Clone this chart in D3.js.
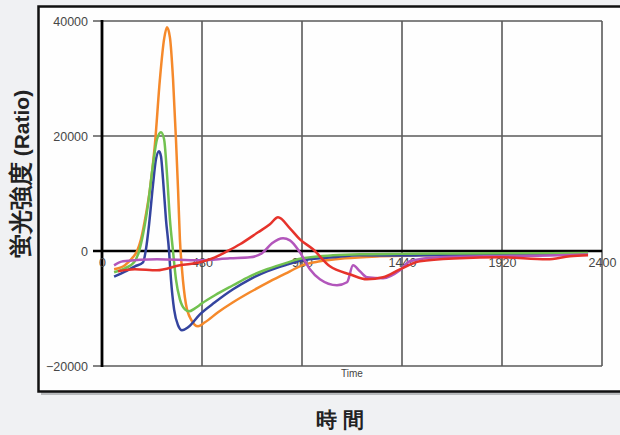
<!DOCTYPE html>
<html>
<head>
<meta charset="utf-8">
<script src="https://cdn.jsdelivr.net/npm/d3@7"></script>
<style>
  html, body { margin: 0; padding: 0; background: #f0f1f3; }
  svg { display: block; }
  text { font-family: "Liberation Sans", Arial, sans-serif; }
</style>
</head>
<body>
<svg id="chart" width="620" height="435"></svg>
<script>
// Axis ticks
const xTicks = [0, 480, 960, 1440, 1920, 2400];
const yTicks = [-20000, 0, 20000, 40000];

// Series: [time, ratio]
const orangeSeries = [
  [58, -3180], [110, -2490], [144, -1270], [168, -50], [187, 2030], [211, 6380],
  [230, 10730], [254, 18550], [278, 29880], [298, 36840], [312, 38900], [326, 37160],
  [341, 29880], [355, 19430], [365, 10730], [374, 2030], [384, -3180], [403, -9270],
  [427, -11880], [461, -13090], [494, -12400], [557, -10660], [629, -8920], [710, -7180],
  [806, -5270], [902, -3530], [960, -2490], [1046, -1790], [1166, -1270], [1334, -920],
  [1526, -750], [1718, -650], [1910, -600], [2100, -550], [2333, -500]
];
const blueSeries = [
  [58, -4470], [110, -3600], [158, -2660], [197, -1970], [211, 300], [226, 4640],
  [245, 11600], [259, 15950], [274, 17340], [283, 16470], [293, 12470], [307, 5510],
  [322, -50], [331, -4920], [346, -10140], [365, -12920], [384, -13790], [413, -13270],
  [470, -11010], [542, -8920], [629, -6660], [710, -4920], [792, -3530], [893, -2310],
  [960, -1620], [1109, -1100], [1238, -750], [1430, -800], [1622, -700], [1910, -650],
  [2150, -600], [2333, -550]
];
const greenSeries = [
  [58, -3700], [110, -3010], [154, -1970], [178, -50], [197, 2900], [221, 8120],
  [245, 15080], [264, 19430], [283, 20640], [298, 19430], [312, 13340], [326, 5510],
  [341, -50], [355, -4920], [374, -8400], [398, -10140], [418, -10490], [446, -9970],
  [480, -9100], [542, -7700], [629, -5960], [710, -4400], [792, -3180], [893, -1970],
  [960, -1270], [1109, -750], [1238, -570], [1430, -500], [1622, -450], [1910, -400],
  [2150, -400], [2333, -350]
];
const purpleSeries = [
  [58, -2490], [101, -1790], [264, -1440], [470, -1620], [614, -1270], [710, -1100],
  [768, -400], [816, 1340], [869, 2210], [902, 1860], [950, -230], [998, -3180],
  [1046, -4920], [1128, -5960], [1176, -5440], [1205, -2490], [1238, -3530], [1272, -4570],
  [1349, -4740], [1430, -3360], [1478, -1790], [1622, -1100], [1910, -900], [2150, -800],
  [2333, -600]
];
const redSeries = [
  [77, -3530], [158, -3180], [264, -3360], [374, -2490], [470, -1970], [542, -1100],
  [600, -50], [662, 1170], [749, 3250], [806, 4640], [845, 5860], [902, 3950],
  [950, 2030], [1013, 300], [1094, -2660], [1190, -4050], [1272, -4920], [1349, -4570],
  [1430, -3180], [1526, -1790], [1718, -1270], [1910, -1100], [2136, -1440], [2246, -920],
  [2333, -750]
];

const seriesList = [
  { data: orangeSeries, color: '#f5892b' },
  { data: blueSeries, color: '#34449f' },
  { data: greenSeries, color: '#72c250' },
  { data: purpleSeries, color: '#b256bb' },
  { data: redSeries, color: '#e6332b' }
];

const svg = d3.select('#chart');

// Outer frame with shadow
svg.append('rect')
  .attr('x', 41).attr('y', 9).attr('width', 600).attr('height', 386)
  .attr('fill', '#b9bbbd');
svg.append('rect')
  .attr('x', 38.5).attr('y', 6.5).attr('width', 600).attr('height', 385)
  .attr('fill', '#fefefe')
  .attr('stroke', '#111').attr('stroke-width', 2.5);

const x = d3.scaleLinear().domain([0, 2400]).range([102, 602]);
const y = d3.scaleLinear().domain([-20000, 40000]).range([366, 21]);

// Grid
const grid = svg.append('g');
grid.selectAll('.vgrid')
  .data(xTicks.filter(d => d > 0))
  .enter().append('line')
  .attr('x1', d => x(d)).attr('x2', d => x(d))
  .attr('y1', y(40000)).attr('y2', y(-20000))
  .attr('stroke', '#5a5a5a').attr('stroke-width', 1.6);
grid.selectAll('.hgrid')
  .data(yTicks.filter(d => d !== 0))
  .enter().append('line')
  .attr('x1', x(0) - 9).attr('x2', x(2400))
  .attr('y1', d => y(d)).attr('y2', d => y(d))
  .attr('stroke', '#5a5a5a').attr('stroke-width', 1.6);

// Y axis labels
const yAxis = d3.axisLeft(y).tickValues(yTicks).tickSize(0).tickPadding(14).tickFormat(d3.format('d'));
const yg = svg.append('g').attr('transform', `translate(${x(0)},0)`).call(yAxis);
yg.select('.domain').remove();
yg.selectAll('text').attr('fill', '#474747').attr('font-size', 12.5);

// Zero line and y axis line
svg.append('line')
  .attr('x1', x(0) - 9).attr('x2', x(2400))
  .attr('y1', y(0)).attr('y2', y(0))
  .attr('stroke', '#000').attr('stroke-width', 2.6);
svg.append('line')
  .attr('x1', x(0)).attr('x2', x(0))
  .attr('y1', y(40000) - 1).attr('y2', y(-20000) + 1)
  .attr('stroke', '#000').attr('stroke-width', 2.8);

// X axis labels sit just under the zero line
const xAxis = d3.axisBottom(x).tickValues(xTicks).tickSize(0).tickPadding(7).tickFormat(d3.format('d'));
const xg = svg.append('g').attr('transform', `translate(0,${y(0)})`).call(xAxis);
xg.select('.domain').remove();
xg.selectAll('text').attr('fill', '#474747').attr('font-size', 12.5);

// Lines
const line = d3.line()
  .x(d => x(d[0]))
  .y(d => y(d[1]))
  .curve(d3.curveMonotoneX);

svg.append('g').selectAll('path')
  .data(seriesList)
  .enter().append('path')
  .attr('d', d => line(d.data))
  .attr('fill', 'none')
  .attr('stroke', d => d.color)
  .attr('stroke-width', 2.5)
  .attr('stroke-linejoin', 'round');

// Inner axis title
svg.append('text')
  .attr('x', 352).attr('y', 377)
  .attr('text-anchor', 'middle')
  .attr('font-size', 10)
  .attr('fill', '#444')
  .text('Time');

// Outer titles
const yTitle = svg.append('text')
  .attr('transform', 'translate(29,174) rotate(-90)')
  .attr('text-anchor', 'middle')
  .attr('font-family', '"Noto Sans CJK JP", "Noto Sans", sans-serif')
  .attr('font-weight', 'bold')
  .attr('fill', '#222');
yTitle.append('tspan').attr('font-size', 24).text('蛍光強度');
yTitle.append('tspan').attr('font-size', 21).text(' (Ratio)');

svg.append('text')
  .attr('x', 340).attr('y', 427)
  .attr('text-anchor', 'middle')
  .attr('font-family', '"Noto Sans CJK JP", sans-serif')
  .attr('font-weight', 'bold')
  .attr('font-size', 21)
  .attr('fill', '#222')
  .text('時 間');
</script>
</body>
</html>
